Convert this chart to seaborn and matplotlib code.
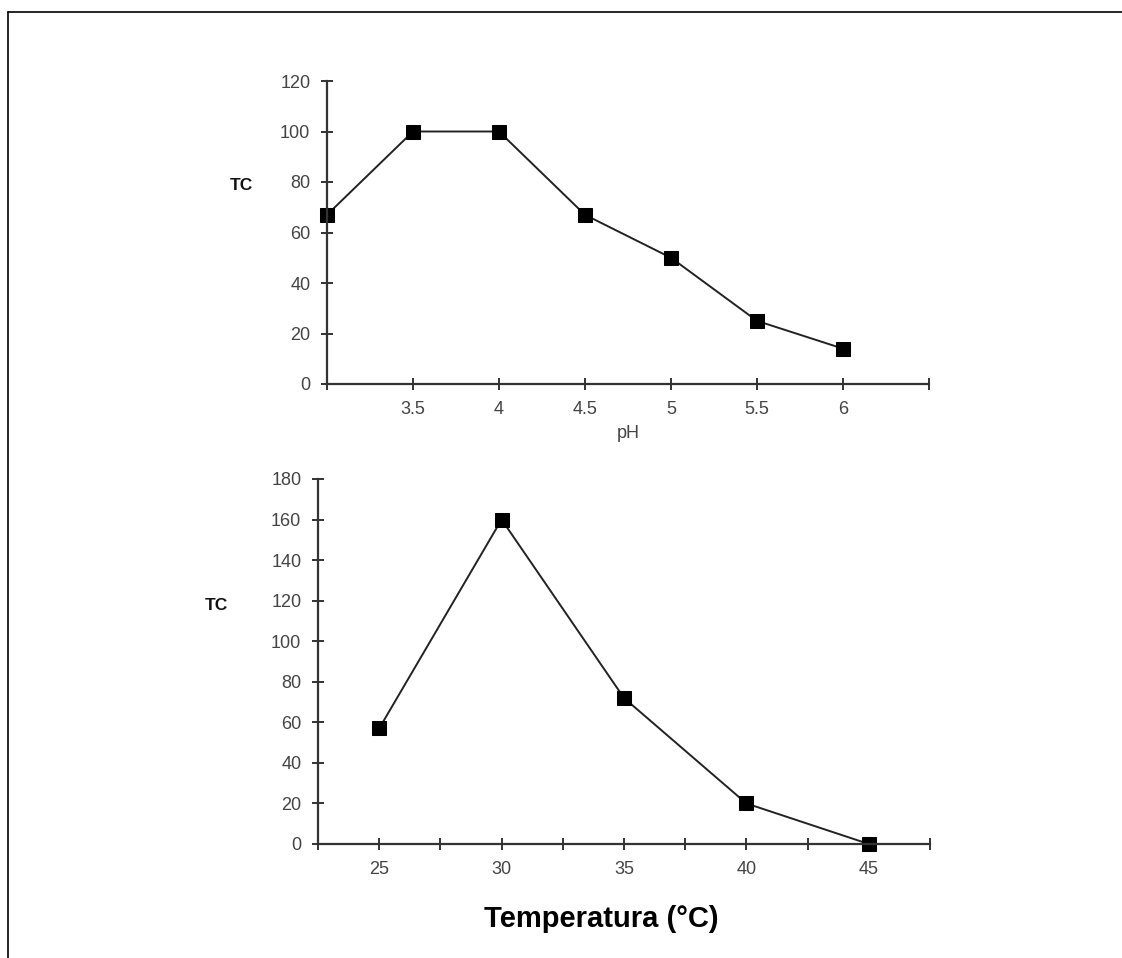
import matplotlib
matplotlib.use("Agg")
import matplotlib.pyplot as plt
from matplotlib.lines import Line2D
import seaborn as sns
import numpy as np
import pandas as pd

# ---- data ----
ph_values = [3.0, 3.5, 4.0, 4.5, 5.0, 5.5, 6.0]
tc_ph = [67, 100, 100, 67, 50, 25, 14]

temp_values = [25, 30, 35, 40, 45]
tc_temp = [57, 160, 72, 20, 0]

ph_ticks = [3.0, 3.5, 4.0, 4.5, 5.0, 5.5, 6.0, 6.5]
ph_ticklabels = ["", "3.5", "4", "4.5", "5", "5.5", "6", ""]
ph_yticks = [0, 20, 40, 60, 80, 100, 120]

temp_ticks = [22.5, 25, 27.5, 30, 32.5, 35, 37.5, 40, 42.5, 45, 47.5]
temp_ticklabels = ["", "25", "", "30", "", "35", "", "40", "", "45", ""]
temp_yticks = [0, 20, 40, 60, 80, 100, 120, 140, 160, 180]

sns.set_style("white")
plt.rcParams['font.family'] = ['Liberation Sans', 'DejaVu Sans']

W, H = 1122, 958
fig = plt.figure(figsize=(W / 100, H / 100), dpi=100)

axis_col = "#333333"
tick_col = "#444444"

def px_axes(l, r, b, t):
    return fig.add_axes([l / W, 1 - b / H, (r - l) / W, (b - t) / H])

def style(ax):
    for s in ["top", "right"]:
        ax.spines[s].set_visible(False)
    for s in ["left", "bottom"]:
        ax.spines[s].set_color(axis_col)
        ax.spines[s].set_linewidth(1.6)
    ax.tick_params(bottom=True, left=True, top=False, right=False)
    ax.tick_params(direction="inout", length=8, width=1.4, color=axis_col,
                   labelsize=13, labelcolor=tick_col)
    ax.tick_params(axis="y", pad=8)
    ax.tick_params(axis="x", pad=8)

# ---- top chart ----
ax1 = px_axes(327, 929, 384, 81)
df1 = pd.DataFrame({"pH": ph_values, "TC": tc_ph})
sns.lineplot(data=df1, x="pH", y="TC", ax=ax1, color="#222222", linewidth=1.4,
             marker="s", markersize=10, markerfacecolor="black",
             markeredgecolor="black", clip_on=False)
ax1.set_xlim(3.0, 6.5)
ax1.set_ylim(0, 120)
ax1.set_xticks(ph_ticks)
ax1.set_xticklabels(ph_ticklabels)
ax1.set_yticks(ph_yticks)
style(ax1)
ax1.set_xlabel("pH", fontsize=13, color=tick_col, labelpad=5)
ax1.set_ylabel("")
fig.text(241 / W, 1 - 186 / H, "TC", fontsize=12.5, fontweight="bold",
         ha="center", va="center", color="#111111")

# ---- bottom chart ----
ax2 = px_axes(318, 930, 844, 479)
df2 = pd.DataFrame({"Temp": temp_values, "TC": tc_temp})
sns.lineplot(data=df2, x="Temp", y="TC", ax=ax2, color="#222222", linewidth=1.4,
             marker="s", markersize=10, markerfacecolor="black",
             markeredgecolor="black", clip_on=False)
ax2.set_xlim(22.5, 47.5)
ax2.set_ylim(0, 180)
ax2.set_xticks(temp_ticks)
ax2.set_xticklabels(temp_ticklabels)
ax2.set_yticks(temp_yticks)
style(ax2)
ax2.set_xlabel("")
ax2.set_ylabel("")
fig.text(216 / W, 1 - 606 / H, "TC", fontsize=12.5, fontweight="bold",
         ha="center", va="center", color="#111111")
fig.text(601 / W, 1 - 927 / H, "Temperatura (°C)", fontsize=21,
         fontweight="bold", ha="center", va="baseline", color="black")

# ---- frame lines ----
fig.add_artist(Line2D([8 / W, 1.0], [1 - 12 / H, 1 - 12 / H],
                      transform=fig.transFigure, color="black", linewidth=1.2))
fig.add_artist(Line2D([8 / W, 8 / W], [1 - 12 / H, 0.0],
                      transform=fig.transFigure, color="black", linewidth=1.2))

fig.savefig("out.png", dpi=100, facecolor="white")
